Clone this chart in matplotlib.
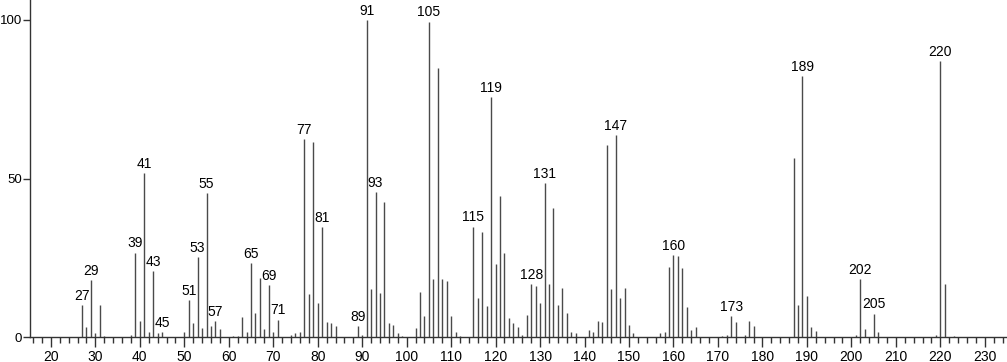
import matplotlib.pyplot as plt

plt.rcParams['font.family'] = ['Liberation Sans', 'DejaVu Sans']

# m/z and relative intensity
mz = [27, 28, 29, 30, 31, 32, 38, 39, 40, 41, 42, 43, 44, 45,
      50, 51, 52, 53, 54, 55, 56, 57, 58, 61, 62, 63, 64, 65, 66, 67, 68, 69, 70, 71,
      74, 75, 76, 77, 78, 79, 80, 81, 82, 83, 84, 89, 90,
      91, 92, 93, 94, 95, 96, 97, 98, 99, 102, 103, 104, 105, 106, 107, 108, 109, 110, 111, 112,
      115, 116, 117, 118, 119, 120, 121, 122, 123, 124, 125, 126, 127, 128, 129, 130,
      131, 132, 133, 134, 135, 136, 137, 138, 141, 142, 143, 144, 145, 146, 147, 148, 149, 150, 151,
      157, 158, 159, 160, 161, 162, 163, 164, 165, 171, 172, 173, 174, 176, 177, 178,
      187, 188, 189, 190, 191, 192, 201, 202, 203, 205, 206, 219, 220, 221, 223]
intensity = [10.1, 3.1, 18.0, 1.2, 10.1, 0.5, 0.7, 26.7, 5.2, 51.7, 1.7, 21.0, 1.2, 1.8,
             1.8, 11.7, 4.6, 25.4, 2.8, 45.6, 3.5, 5.2, 2.5, 0.5, 0.5, 6.3, 1.8, 23.3, 7.7, 18.8, 2.5, 16.4, 1.7, 5.6,
             0.8, 1.4, 1.8, 62.5, 13.8, 61.6, 10.7, 34.7, 4.9, 4.6, 3.5, 3.5, 0.8,
             100.0, 15.3, 45.9, 14.0, 42.7, 4.4, 3.9, 1.4, 0.5, 2.8, 14.3, 6.7, 99.5, 18.3, 84.8, 18.3, 17.6, 6.7, 1.7, 0.5,
             34.9, 12.5, 33.3, 9.8, 75.8, 23.2, 44.5, 26.7, 6.0, 4.6, 3.1, 0.8, 7.0, 16.9, 16.1, 10.7,
             48.5, 16.7, 40.8, 10.1, 15.5, 7.7, 1.7, 1.2, 2.2, 1.8, 5.1, 4.9, 60.6, 15.3, 63.8, 12.5, 15.5, 3.9, 1.2,
             1.4, 1.8, 22.1, 25.8, 25.5, 21.9, 9.4, 2.2, 3.3, 0.5, 0.8, 6.7, 4.9, 0.8, 5.2, 3.5,
             56.6, 10.1, 82.4, 13.0, 3.3, 1.9, 0.8, 18.5, 2.6, 7.5, 1.7, 0.6, 87.2, 16.9, 0.3]

labelled = [27, 29, 39, 41, 43, 45, 51, 53, 55, 57, 65, 69, 71, 77, 81, 89, 91, 93,
            105, 115, 119, 128, 131, 147, 160, 173, 189, 202, 205, 220]

fig = plt.figure(figsize=(10.07, 3.62), dpi=100)
ax = fig.add_axes([30 / 1007, 24.7 / 362, 977 / 1007, 337.3 / 362])

ax.vlines(mz, 0, intensity, color='#4a4a4a', linewidth=1.0)

peaks = dict(zip(mz, intensity))
for m in labelled:
    ax.annotate(str(m), (m, peaks[m]), xytext=(0, 1.5), textcoords='offset points',
                ha='center', va='bottom', fontsize=10, color='black')

ax.set_xlim(15.3, 235)
ax.set_ylim(0, 106.3)
ax.set_xticks(range(20, 231, 10))
ax.set_xticks(range(16, 235, 2), minor=True)
ax.set_yticks([0, 50, 100])

for s in ['top', 'right']:
    ax.spines[s].set_visible(False)
for s in ['left', 'bottom']:
    ax.spines[s].set_color('#333333')
    ax.spines[s].set_linewidth(1.0)

ax.tick_params(axis='x', which='major', length=7, width=1, color='#333333', labelsize=10, pad=2)
ax.tick_params(axis='x', which='minor', length=4, width=1, color='#333333')
ax.tick_params(axis='y', which='major', length=5, width=1, color='#333333', labelsize=9.5, pad=0.5)

fig.savefig('out.png', dpi=100)
